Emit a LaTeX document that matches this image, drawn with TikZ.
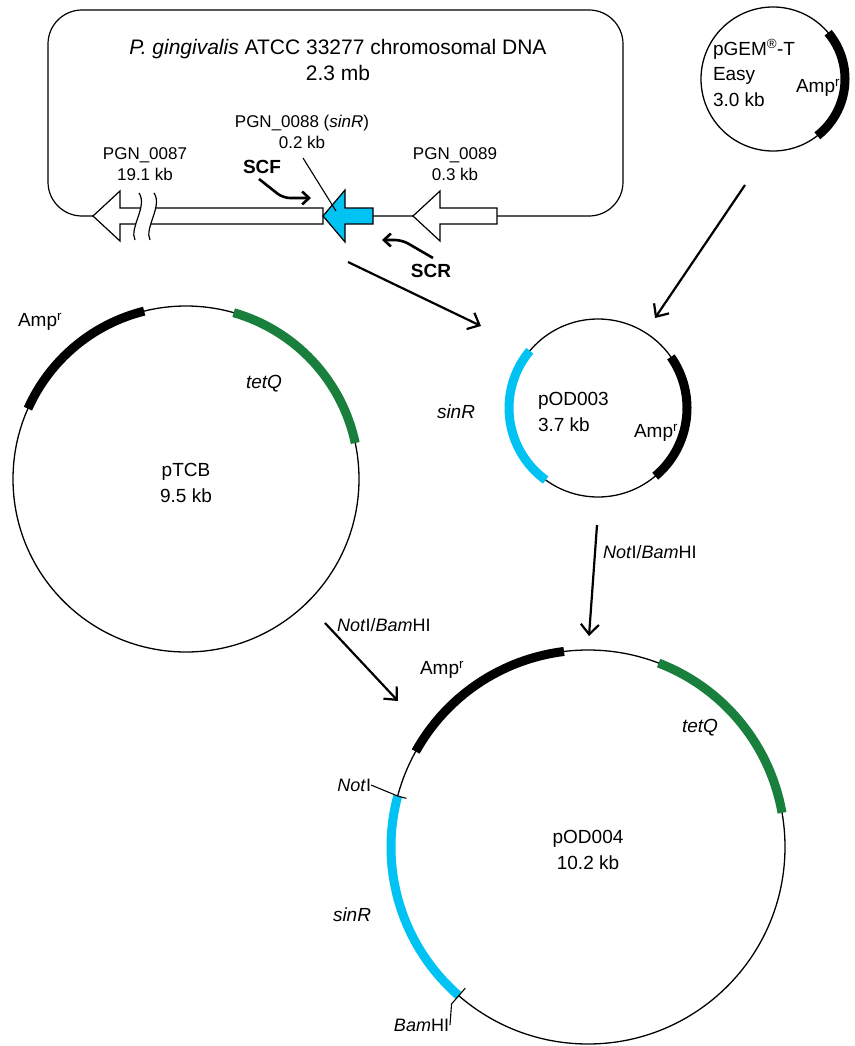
\documentclass[tikz,border=0pt]{standalone}
\usepackage{fontspec}
\setmainfont{Liberation Sans}
\usetikzlibrary{arrows.meta}
\definecolor{sincol}{RGB}{0,194,243}
\definecolor{tetcol}{RGB}{24,128,60}
\begin{document}
\begin{tikzpicture}[x=1pt,y=1pt,
  every node/.style={inner sep=0pt, outer sep=0pt},
  lbl/.style={font=\fontsize{19}{25.5}\selectfont, align=center},
  big/.style={font=\fontsize{21}{26}\selectfont, align=center},
  small/.style={font=\fontsize{17}{21}\selectfont, align=center},
  cut/.style={font=\fontsize{18}{21}\selectfont},
  bold/.style={font=\fontsize{19}{23}\selectfont\bfseries},
  plasmid/.style={draw, circle, line width=1.3pt},
  band/.style={line width=9pt},
  ampband/.style={band, black},
  tetband/.style={band, tetcol},
  sinband/.style={band, sincol},
  gene/.style={draw, line width=1.2pt, fill=white},
  conn/.style={line width=2.2pt, -{Straight Barb[length=10pt,width=18pt]}},
  primer/.style={line width=2.6pt, rounded corners=7pt, -{Straight Barb[length=7pt,width=13pt]}},
  tick/.style={line width=1.1pt}]
\useasboundingbox (0,0) rectangle (854,-1046);

% ---------- chromosome ----------
\node[draw, rounded corners=34pt, line width=1.2pt, minimum width=575pt, minimum height=206pt] (chrom) at (335.5,-113) {};
\node[big] (title) at (338,-60) {\textit{P. gingivalis} ATCC 33277 chromosomal DNA\\2.3 mb};
% PGN_0087
\draw[gene] (93,-216) -- (120,-191) -- (120,-208) -- (323,-208) -- (323,-224) -- (120,-224) -- (120,-241) -- cycle;
\fill[white] (139,-193) .. controls (148,-206) and (129,-228) .. (135,-240) -- (150,-240) .. controls (144,-228) and (163,-206) .. (154,-193) -- cycle;
\draw[line width=1.2pt] (139,-193) .. controls (148,-206) and (129,-228) .. (135,-240);
\draw[line width=1.2pt] (154,-193) .. controls (163,-206) and (144,-228) .. (150,-240);
% sinR gene
\draw[gene, fill=sincol] (323,-216) -- (345,-190) -- (345,-208) -- (373,-208) -- (373,-224) -- (345,-224) -- (345,-242) -- cycle;
% PGN_0089
\draw[gene] (413,-216) -- (440,-191) -- (440,-208) -- (497,-208) -- (497,-224) -- (440,-224) -- (440,-241) -- cycle;
\node[small] (g87) at (145,-164) {PGN\_0087\\19.1 kb};
\node[small] (g88) at (302,-132) {PGN\_0088 (\textit{sinR})\\0.2 kb};
\node[small] (g89) at (455,-164) {PGN\_0089\\0.3 kb};
\coordinate (p88a) at (303,-158);
\coordinate (p88b) at (336,-211);
\draw[tick] (p88a) -- (p88b);
% primers
\node[bold] (scf) at (262,-167) {SCF};
\node[bold] (scr) at (431,-271) {SCR};
\coordinate (scf1) at (259,-179);
\coordinate (scf2) at (283,-198);
\coordinate (scf3) at (311,-198);
\draw[primer] (scf1) -- (scf2) -- (scf3);
\coordinate (scr1) at (433,-258);
\coordinate (scr2) at (402,-240);
\coordinate (scr3) at (382,-240);
\draw[primer] (scr1) -- (scr2) -- (scr3);

% ---------- pGEM-T Easy ----------
\node[plasmid, minimum size=144pt] (pgem) at (773,-79) {};
\draw[ampband] ([shift={(-52:72)}]pgem.center) arc[start angle=-52, end angle=40, radius=72];
\node[lbl, align=left, anchor=west] (pgemtxt) at (713,-73) {pGEM\textsuperscript{®}-T\\Easy\\3.0 kb};
\node[lbl] (pgemamp) at (818,-88) {Amp\textsuperscript{r}};

% ---------- pOD003 ----------
\node[plasmid, minimum size=178pt] (pod3) at (598,-408) {};
\draw[sinband] ([shift={(140:89)}]pod3.center) arc[start angle=140, end angle=234, radius=89];
\draw[ampband] ([shift={(-50:89)}]pod3.center) arc[start angle=-50, end angle=35, radius=89];
\node[lbl, align=left, anchor=west] (pod3txt) at (538,-412) {pOD003\\3.7 kb};
\node[lbl] (pod3amp) at (656,-433) {Amp\textsuperscript{r}};
\node[lbl] (pod3sin) at (456,-412) {\textit{sinR}};

% ---------- pTCB ----------
\node[plasmid, minimum size=346pt] (ptcb) at (186,-479) {};
\draw[ampband] ([shift={(104:173)}]ptcb.center) arc[start angle=104, end angle=156, radius=173];
\draw[tetband] ([shift={(12:173)}]ptcb.center) arc[start angle=12, end angle=74, radius=173];
\node[lbl] (ptcbtxt) at (186,-483) {pTCB\\9.5 kb};
\node[lbl] (ptcbamp) at (40,-322) {Amp\textsuperscript{r}};
\node[lbl] (ptcbtet) at (264,-384) {\textit{tetQ}};

% ---------- pOD004 ----------
\node[plasmid, minimum size=394pt] (pod4) at (588,-847) {};
\draw[ampband] ([shift={(97:197)}]pod4.center) arc[start angle=97, end angle=151, radius=197];
\draw[tetband] ([shift={(10:197)}]pod4.center) arc[start angle=10, end angle=69, radius=197];
\draw[sinband] ([shift={(165:197)}]pod4.center) arc[start angle=165, end angle=229, radius=197];
\node[lbl] (pod4txt) at (588,-850) {pOD004\\10.2 kb};
\node[lbl] (pod4amp) at (442,-670) {Amp\textsuperscript{r}};
\node[lbl] (pod4tet) at (700,-728) {\textit{tetQ}};
\node[lbl] (pod4sin) at (352,-915) {\textit{sinR}};
\node[cut, anchor=east] (noti) at (371,-785) {\textit{Not}I};
\node[cut, anchor=east] (bamhi) at (449,-1025) {\textit{Bam}HI};
\draw[tick] (noti.east) -- ([shift={(165:197)}]pod4.center) -- ++(-15:9);
\draw[tick] ([xshift=1pt]bamhi.east) -- ([shift={(229:208)}]pod4.center) -- ([shift={(229:187)}]pod4.center);

% ---------- connectors ----------
\coordinate (a1s) at (348,-262);
\coordinate (a1e) at (481,-326);
\draw[conn] (a1s) -- (a1e);
\coordinate (a2s) at (745,-185);
\coordinate (a2e) at (655,-318);
\draw[conn] (a2s) -- (a2e);
\coordinate (a3s) at (597,-525);
\coordinate (a3e) at (589,-636);
\draw[conn] (a3s) -- (a3e);
\node[cut, anchor=west] (cut1) at (603,-552) {\textit{Not}I/\textit{Bam}HI};
\coordinate (a4s) at (325,-623);
\coordinate (a4e) at (398,-701);
\draw[conn] (a4s) -- (a4e);
\node[cut, anchor=west] (cut2) at (337,-625) {\textit{Not}I/\textit{Bam}HI};
\end{tikzpicture}
\end{document}
